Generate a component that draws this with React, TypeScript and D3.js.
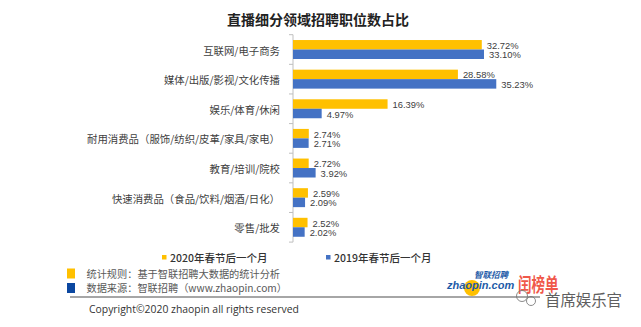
import React from "react";
import * as d3 from "d3";

const categories = [
  "互联网/电子商务",
  "媒体/出版/影视/文化传播",
  "娱乐/体育/休闲",
  "耐用消费品（服饰/纺织/皮革/家具/家电）",
  "教育/培训/院校",
  "快速消费品（食品/饮料/烟酒/日化）",
  "零售/批发",
];
const series2020 = [32.72, 28.58, 16.39, 2.74, 2.72, 2.59, 2.52];
const series2019 = [33.1, 35.23, 4.97, 2.71, 3.92, 2.09, 2.02];
const seriesNames = ["2020年春节后一个月", "2019年春节后一个月"];
const title = "直播细分领域招聘职位数占比";
const footnotes = ["统计规则：基于智联招聘大数据的统计分析", "数据来源：智联招聘（www.zhaopin.com）"];
const copyright = "Copyright©2020 zhaopin all rights reserved";

const W = 641;
const H = 327;
const YELLOW = "#FFC000";
const BLUE = "#4472C4";
const CJK = "'Noto Sans CJK SC', 'Noto Sans', sans-serif";

export default function App() {
  const x = d3.scaleLinear().domain([0, 40]).range([293, 293 + 40 * 5.77]);
  const y = d3
    .scaleBand<string>()
    .domain(categories)
    .range([34.7, 242.1])
    .paddingInner(0.36)
    .paddingOuter(0.18);
  const sub = d3.scaleBand<string>().domain(["2020", "2019"]).range([0, y.bandwidth()]);
  const step = y.step();
  const boundaries = d3.range(categories.length + 1).map((i) => y.range()[0] + i * step);

  const rows = categories.map((c, i) => ({ c, v: [series2020[i], series2019[i]] }));

  return (
    <svg
      width={W}
      height={H}
      style={{ position: "absolute", left: 0, top: 0, background: "#fff" }}
      fontFamily={CJK}
    >
      <rect width={W} height={H} fill="#fff" />
      <text x={318} y={25} textAnchor="middle" fontSize={14} fontWeight="bold" fill="#222">
        {title}
      </text>

      {/* axis */}
      <line x1={x(0)} x2={x(0)} y1={boundaries[0]} y2={boundaries[boundaries.length - 1]} stroke="#bfbfbf" strokeWidth={1} />
      {boundaries.map((b, i) => (
        <line key={i} x1={x(0) - 4} x2={x(0)} y1={b} y2={b} stroke="#bfbfbf" strokeWidth={1} />
      ))}

      {rows.map((r) => {
        const y0 = y(r.c)!;
        return (
          <g key={r.c}>
            <text
              x={280}
              y={y0 + y.bandwidth() / 2 + 0.5}
              textAnchor="end"
              dominantBaseline="central"
              fontSize={10.4}
              fill="#404040"
            >
              {r.c}
            </text>
            {r.v.map((v, j) => {
              const key = j === 0 ? "2020" : "2019";
              const by = y0 + sub(key)!;
              return (
                <g key={key}>
                  <rect x={x(0)} y={by} width={x(v) - x(0)} height={sub.bandwidth()} fill={j === 0 ? YELLOW : BLUE} />
                  <text
                    x={x(v) + 5}
                    y={by + sub.bandwidth() / 2 + 0.5}
                    dominantBaseline="central"
                    fontSize={9.4}
                    fontFamily="'Liberation Sans', Arial, sans-serif"
                    fill="#404040"
                  >
                    {v.toFixed(2)}%
                  </text>
                </g>
              );
            })}
          </g>
        );
      })}

      {/* legend */}
      {seriesNames.map((n, i) => {
        const lx = i === 0 ? 162 : 326;
        return (
          <g key={n}>
            <rect x={lx} y={255} width={4.5} height={4.5} fill={i === 0 ? YELLOW : BLUE} />
            <text x={lx + 8} y={257.5} dominantBaseline="central" fontSize={10.5} fontWeight={500} fill="#333">
              {n}
            </text>
          </g>
        );
      })}

      {/* footnotes */}
      {footnotes.map((t, i) => (
        <g key={t}>
          <rect x={67} y={268.5 + i * 14.5} width={8} height={10} fill={i === 0 ? YELLOW : "#0B47A0"} />
          <text x={86.5} y={273.5 + i * 14.4} dominantBaseline="central" fontSize={10.2} fill="#595959">
            {t}
          </text>
        </g>
      ))}
      <line x1={70} x2={540} y1={297} y2={297} stroke="#a6a6a6" strokeWidth={2} />
      <text x={89} y={308.5} dominantBaseline="central" fontSize={10.4} fill="#333" fontFamily="'Open Sans', 'Liberation Sans', sans-serif">
        {copyright}
      </text>

      {/* zhaopin logo */}
      <circle cx={472} cy={288} r={8} fill="#FFC000" />
      <text x={447} y={289} fontSize={11} fontWeight="bold" fontStyle="italic" fill="#1E5BA8" fontFamily="'Liberation Sans', Arial, sans-serif">
        zhaopin.com
      </text>
      <text x={474} y={278} fontSize={8.5} fontWeight="bold" fontStyle="italic" fill="#1E5BA8">
        智联招聘
      </text>
      {/* red logo */}
      <text x={0} y={0} fontSize={13.5} fill="#F0584A" fontWeight="bold" transform="translate(518,292) scale(1,1.4)">
        闰榜单
      </text>
      {/* watermark */}
      <g opacity={0.85}>
        <circle cx={522} cy={296} r={5.5} fill="none" stroke="#777" strokeWidth={1} />
        <circle cx={531} cy={301} r={4.5} fill="none" stroke="#777" strokeWidth={1} />
        <text x={545} y={299} dominantBaseline="central" fontSize={15.4} fill="#444" stroke="#fff" strokeWidth={2.5} paintOrder="stroke">
          首席娱乐官
        </text>
      </g>
    </svg>
  );
}
